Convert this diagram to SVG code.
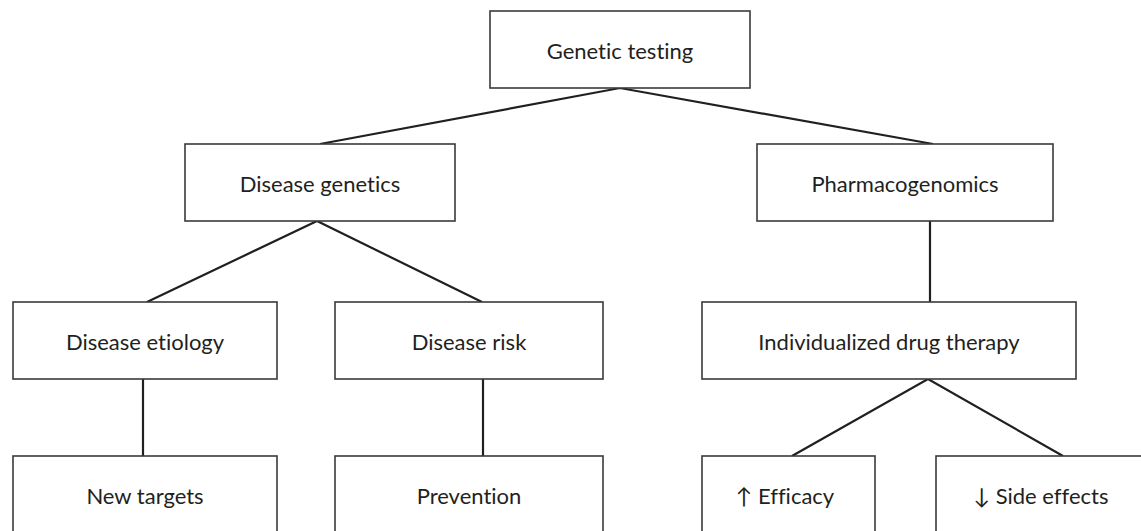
<svg xmlns="http://www.w3.org/2000/svg" width="1141" height="531" viewBox="0 0 1141 531">
<style>
.box{fill:#fff;stroke:#3a3a3a;stroke-width:1.6}
.lbl{font-family:Lato,"Liberation Sans",sans-serif;font-size:22px;fill:#231f20;text-anchor:middle;font-variant-ligatures:none}
.con{stroke:#231f20;stroke-width:2.2;fill:none}
</style>
<rect width="1141" height="531" fill="#fff"/>
<g id="connectors">
<polyline class="con" points="320,144 620,88 933,144"/>
<polyline class="con" points="147,302 317,221 482,302"/>
<line class="con" x1="930" y1="221" x2="930" y2="302"/>
<line class="con" x1="143" y1="379" x2="143" y2="456"/>
<line class="con" x1="483" y1="379" x2="483" y2="456"/>
<polyline class="con" points="792,456 928,379 1063,456"/>
</g>
<g id="n-genetic-testing"><rect class="box" x="490" y="11" width="260" height="77"/><text class="lbl" x="620" y="58.5">Genetic testing</text></g>
<g id="n-disease-genetics"><rect class="box" x="185" y="144" width="270" height="77"/><text class="lbl" x="320" y="191.5">Disease genetics</text></g>
<g id="n-pharmacogenomics"><rect class="box" x="757" y="144" width="296" height="77"/><text class="lbl" x="905" y="191.5">Pharmacogenomics</text></g>
<g id="n-disease-etiology"><rect class="box" x="13" y="302" width="264" height="77"/><text class="lbl" x="145" y="349.5">Disease etiology</text></g>
<g id="n-disease-risk"><rect class="box" x="335" y="302" width="268" height="77"/><text class="lbl" x="469" y="349.5">Disease risk</text></g>
<g id="n-drug-therapy"><rect class="box" x="702" y="302" width="374" height="77"/><text class="lbl" x="889" y="349.5">Individualized drug therapy</text></g>
<g id="n-new-targets"><rect class="box" x="13" y="456" width="264" height="90"/><text class="lbl" x="145" y="503.5">New targets</text></g>
<g id="n-prevention"><rect class="box" x="335" y="456" width="268" height="90"/><text class="lbl" x="469" y="503.5">Prevention</text></g>
<g id="n-efficacy"><rect class="box" x="702" y="456" width="173" height="90"/><text class="lbl" x="785" y="503.5">↑ Efficacy</text></g>
<g id="n-side-effects"><rect class="box" x="936" y="456" width="210" height="90"/><text class="lbl" x="1041" y="503.5">↓ Side effects</text></g>
</svg>
